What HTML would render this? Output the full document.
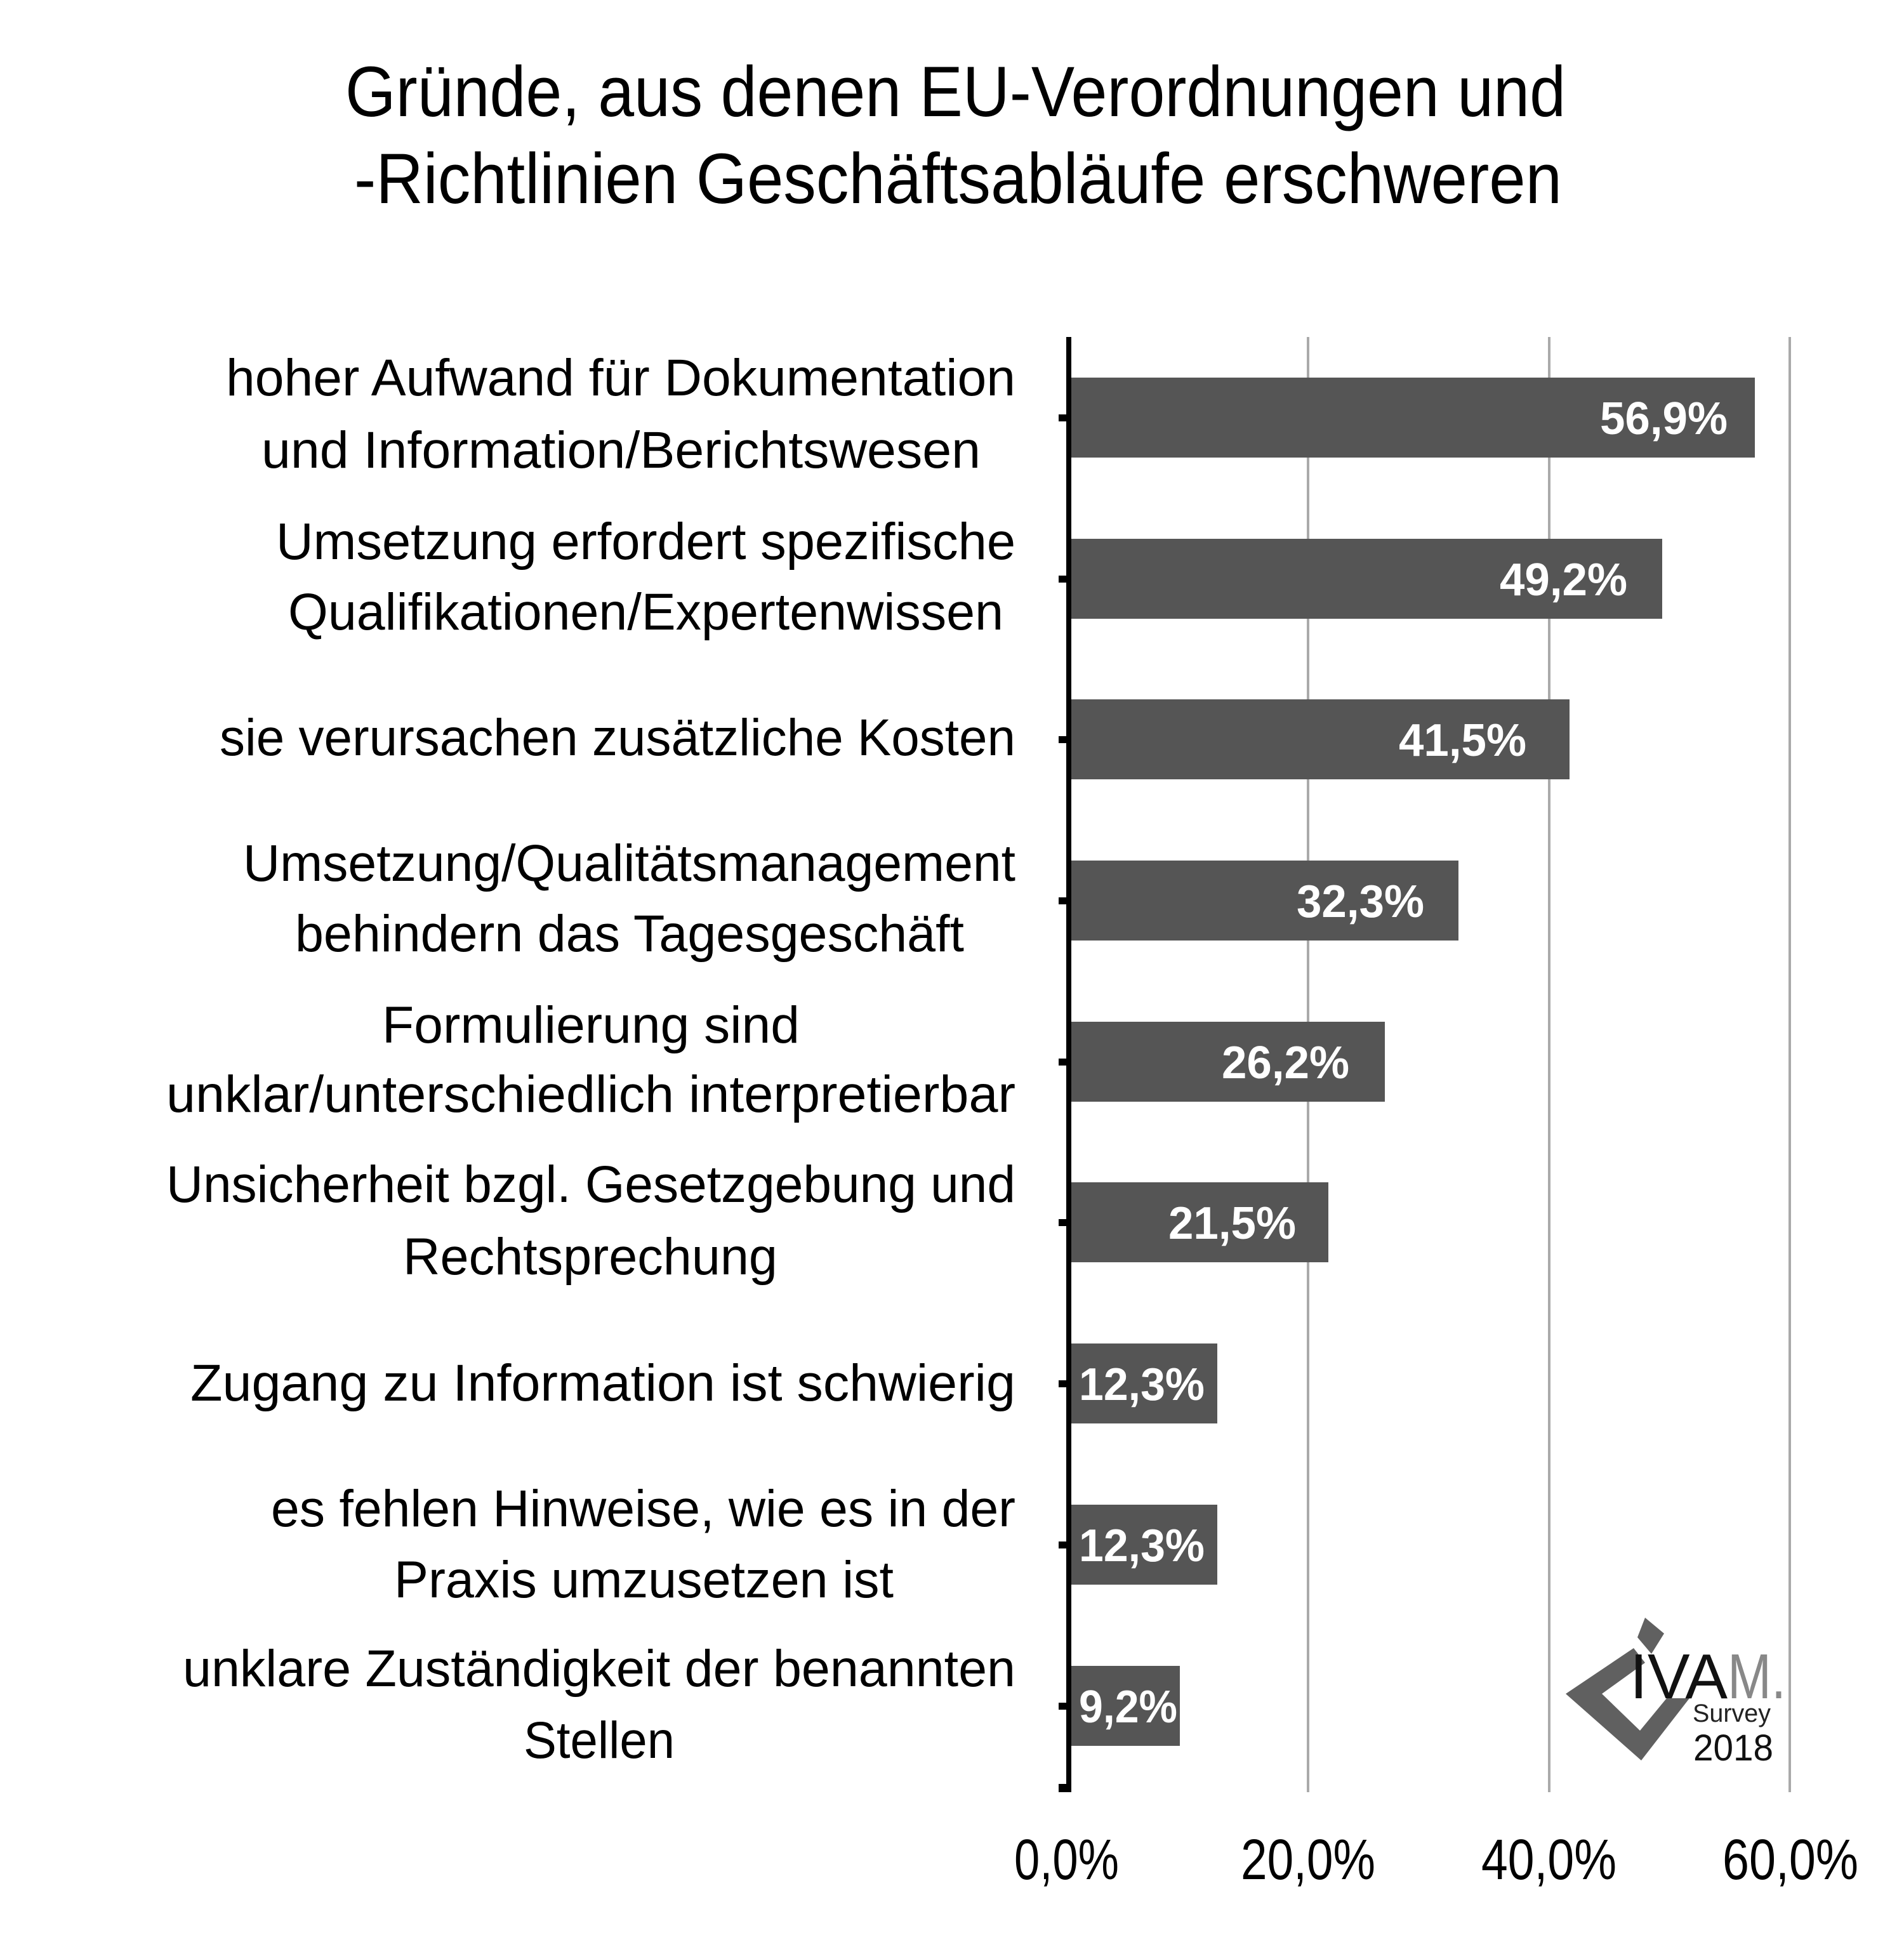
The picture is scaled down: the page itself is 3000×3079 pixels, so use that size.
<!DOCTYPE html>
<html><head><meta charset="utf-8"><style>
html,body{margin:0;padding:0;background:#fff;}
svg{display:block;}
text{font-family:"Liberation Sans Narrow","Liberation Sans",sans-serif;}
</style></head><body>
<svg width="3000" height="3079" viewBox="0 0 3000 3079" xmlns="http://www.w3.org/2000/svg">
<rect width="3000" height="3079" fill="#fff"/>
<g font-size="112" fill="#000">
<text x="544" y="183" textLength="1923" lengthAdjust="spacingAndGlyphs">Gründe, aus denen EU-Verordnungen und</text>
<text x="558" y="320" textLength="1903" lengthAdjust="spacingAndGlyphs">-Richtlinien Geschäftsabläufe erschweren</text>
</g>
<g stroke="#aaa" stroke-width="4">
<line x1="2061" y1="531" x2="2061" y2="2824"/>
<line x1="2441" y1="531" x2="2441" y2="2824"/>
<line x1="2820" y1="531" x2="2820" y2="2824"/>
</g>
<g fill="#555">
<rect x="1688" y="595" width="1077" height="126"/>
<rect x="1688" y="849" width="931" height="126"/>
<rect x="1688" y="1102" width="785" height="126"/>
<rect x="1688" y="1356" width="610" height="126"/>
<rect x="1688" y="1610" width="494" height="126"/>
<rect x="1688" y="1863" width="405" height="126"/>
<rect x="1688" y="2117" width="230" height="126"/>
<rect x="1688" y="2371" width="230" height="126"/>
<rect x="1688" y="2625" width="171" height="126"/>
</g>
<g fill="#000">
<rect x="1680" y="531" width="8" height="2293"/>
<rect x="1668" y="653" width="20" height="11"/>
<rect x="1668" y="907" width="20" height="11"/>
<rect x="1668" y="1160" width="20" height="11"/>
<rect x="1668" y="1414" width="20" height="11"/>
<rect x="1668" y="1668" width="20" height="11"/>
<rect x="1668" y="1921" width="20" height="11"/>
<rect x="1668" y="2175" width="20" height="11"/>
<rect x="1668" y="2429" width="20" height="11"/>
<rect x="1668" y="2683" width="20" height="11"/>
<rect x="1668" y="2811" width="20" height="13"/>
</g>
<g font-size="72" font-weight="bold" fill="#fff" text-anchor="end">
<text x="2722" y="684" textLength="201" lengthAdjust="spacingAndGlyphs">56,9%</text>
<text x="2564" y="938" textLength="201" lengthAdjust="spacingAndGlyphs">49,2%</text>
<text x="2405" y="1191" textLength="201" lengthAdjust="spacingAndGlyphs">41,5%</text>
<text x="2244" y="1445" textLength="201" lengthAdjust="spacingAndGlyphs">32,3%</text>
<text x="2126" y="1699" textLength="201" lengthAdjust="spacingAndGlyphs">26,2%</text>
<text x="2042" y="1952" textLength="201" lengthAdjust="spacingAndGlyphs">21,5%</text>
<text x="1898" y="2206" textLength="198" lengthAdjust="spacingAndGlyphs">12,3%</text>
<text x="1898" y="2460" textLength="198" lengthAdjust="spacingAndGlyphs">12,3%</text>
<text x="1855" y="2714" textLength="155" lengthAdjust="spacingAndGlyphs">9,2%</text>
</g>
<g font-size="82" fill="#000">
<text x="356" y="623" textLength="1244" lengthAdjust="spacingAndGlyphs">hoher Aufwand für Dokumentation</text>
<text x="412" y="737" textLength="1133" lengthAdjust="spacingAndGlyphs">und Information/Berichtswesen</text>
<text x="435" y="881" textLength="1165" lengthAdjust="spacingAndGlyphs">Umsetzung erfordert spezifische</text>
<text x="454" y="992" textLength="1127" lengthAdjust="spacingAndGlyphs">Qualifikationen/Expertenwissen</text>
<text x="346" y="1190" textLength="1254" lengthAdjust="spacingAndGlyphs">sie verursachen zusätzliche Kosten</text>
<text x="383" y="1388" textLength="1217" lengthAdjust="spacingAndGlyphs">Umsetzung/Qualitätsmanagement</text>
<text x="465" y="1499" textLength="1054" lengthAdjust="spacingAndGlyphs">behindern das Tagesgeschäft</text>
<text x="602" y="1643" textLength="658" lengthAdjust="spacingAndGlyphs">Formulierung sind</text>
<text x="262" y="1752" textLength="1338" lengthAdjust="spacingAndGlyphs">unklar/unterschiedlich interpretierbar</text>
<text x="262" y="1894" textLength="1338" lengthAdjust="spacingAndGlyphs">Unsicherheit bzgl. Gesetzgebung und</text>
<text x="635" y="2008" textLength="590" lengthAdjust="spacingAndGlyphs">Rechtsprechung</text>
<text x="300" y="2207" textLength="1300" lengthAdjust="spacingAndGlyphs">Zugang zu Information ist schwierig</text>
<text x="427" y="2405" textLength="1173" lengthAdjust="spacingAndGlyphs">es fehlen Hinweise, wie es in der</text>
<text x="621" y="2517" textLength="787" lengthAdjust="spacingAndGlyphs">Praxis umzusetzen ist</text>
<text x="288" y="2657" textLength="1312" lengthAdjust="spacingAndGlyphs">unklare Zuständigkeit der benannten</text>
<text x="825" y="2770" textLength="238" lengthAdjust="spacingAndGlyphs">Stellen</text>
</g>
<g font-size="90" fill="#000">
<text x="1598" y="2961" textLength="165" lengthAdjust="spacingAndGlyphs">0,0%</text>
<text x="1955" y="2961" textLength="212" lengthAdjust="spacingAndGlyphs">20,0%</text>
<text x="2334" y="2961" textLength="213" lengthAdjust="spacingAndGlyphs">40,0%</text>
<text x="2714" y="2961" textLength="214" lengthAdjust="spacingAndGlyphs">60,0%</text>
</g>
<g fill="#606060">
<polygon points="2592,2549 2622,2574 2602,2606 2580,2580"/>
<polygon points="2574,2597 2592,2620 2524,2669 2584,2727 2626,2676 2662,2676 2586,2774 2467,2669"/>
</g>
<text x="2568" y="2676" font-size="100" fill="#111" textLength="154" lengthAdjust="spacingAndGlyphs">IVA</text>
<text x="2722" y="2676" font-size="100" fill="#888" textLength="92" lengthAdjust="spacingAndGlyphs">M.</text>
<text x="2667" y="2713" font-size="40" fill="#222" textLength="123" lengthAdjust="spacingAndGlyphs">Survey</text>
<text x="2668" y="2774" font-size="58" fill="#111" textLength="126" lengthAdjust="spacingAndGlyphs">2018</text>
</svg>
</body></html>
